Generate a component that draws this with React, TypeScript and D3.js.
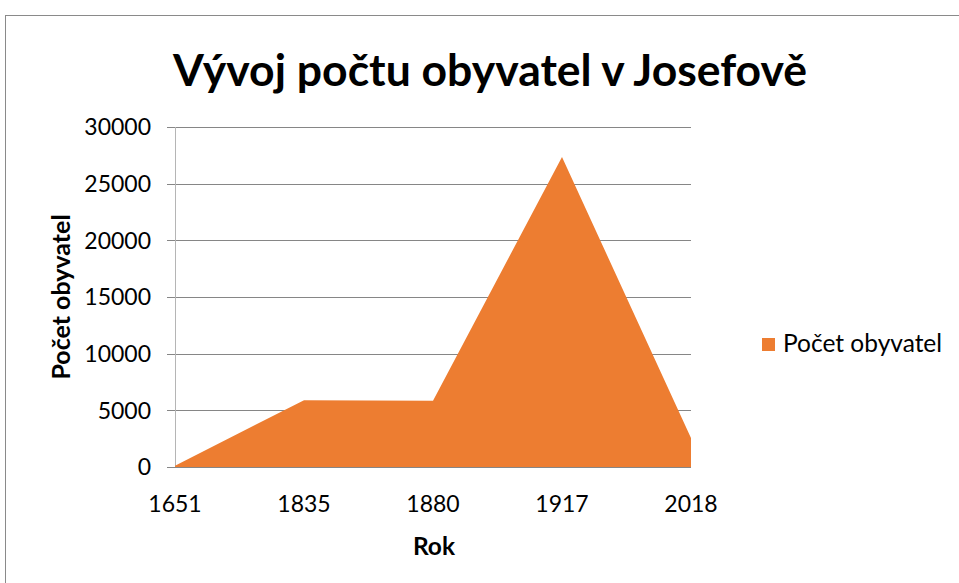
import React from "react";
import * as d3 from "d3";

const categories = ["1651", "1835", "1880", "1917", "2018"];
const population = [100, 5900, 5850, 27350, 2550];
const yTicks = [0, 5000, 10000, 15000, 20000, 25000, 30000];
const seriesName = "Počet obyvatel";
const title = "Vývoj počtu obyvatel v Josefově";

const W = 959;
const H = 583;
const left = 175;
const right = 691;
const top = 127;
const bottom = 467;
const font = "Lato, 'Open Sans', sans-serif";

export default function App() {
  const x = d3.scalePoint<string>().domain(categories).range([left, right]).padding(0);
  const y = d3.scaleLinear().domain([0, 30000]).range([bottom, top]);
  const area = d3
    .area<number>()
    .x((_, i) => x(categories[i]) as number)
    .y0(y(0))
    .y1((d) => y(d));
  return (
    <svg width={W} height={H} style={{ position: "absolute", left: 0, top: 0 }} fontFamily={font}>
      <rect x={0} y={0} width={W} height={H} fill="#fff" />
      <rect x={5.5} y={15.5} width={2000} height={2000} fill="none" stroke="#8a8a8a" strokeWidth={1} />
      <text x={490} y={86} textAnchor="middle" fontSize={44.5} fontWeight="bold" fill="#000">
        {title}
      </text>
      {yTicks.map((t) => (
        <g key={t}>
          <line x1={167} x2={right} y1={Math.round(y(t)) + 0.5} y2={Math.round(y(t)) + 0.5} stroke="#868686" strokeWidth={1} />
          <text x={151} y={y(t)} dy="0.36em" textAnchor="end" fontSize={23} fill="#000">
            {t}
          </text>
        </g>
      ))}
      <line x1={left + 0.5} x2={left + 0.5} y1={top} y2={bottom} stroke="#b5b5b5" strokeWidth={1} />
      <path d={area(population) as string} fill="#ED7D31" />
      <line x1={167} x2={right} y1={Math.round(bottom) + 0.5} y2={Math.round(bottom) + 0.5} stroke="#868686" strokeWidth={1} />
      {categories.map((c) => (
        <text key={c} x={x(c)} y={512} textAnchor="middle" fontSize={23} fill="#000">
          {c}
        </text>
      ))}
      <text x={434} y={555} textAnchor="middle" fontSize={24.5} fontWeight="bold" fill="#000">
        Rok
      </text>
      <text
        transform={`translate(70,297) rotate(-90)`}
        textAnchor="middle"
        fontSize={25}
        fontWeight="bold"
        fill="#000"
      >
        {seriesName}
      </text>
      <rect x={762} y={338} width={13} height={13} fill="#ED7D31" />
      <text x={783} y={352} fontSize={24.5} fill="#000">
        {seriesName}
      </text>
    </svg>
  );
}
